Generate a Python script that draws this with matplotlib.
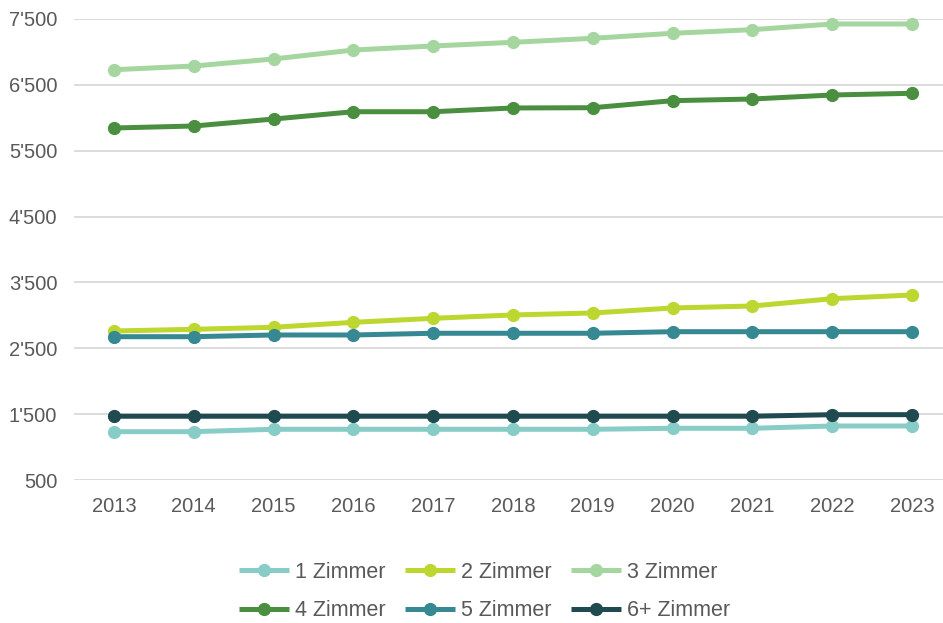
import numpy as np
import matplotlib.pyplot as plt
from matplotlib.ticker import FuncFormatter

plt.rcParams["font.family"] = ["Liberation Sans", "DejaVu Sans"]

years = [2013, 2014, 2015, 2016, 2017, 2018, 2019, 2020, 2021, 2022, 2023]

zimmer_1 = [1234, 1234, 1270, 1270, 1270, 1270, 1270, 1285, 1285, 1320, 1320]
zimmer_2 = [2763, 2788, 2819, 2894, 2955, 3006, 3036, 3112, 3142, 3253, 3309]
zimmer_3 = [6730, 6786, 6893, 7029, 7090, 7146, 7207, 7283, 7338, 7424, 7424]
zimmer_4 = [5845, 5875, 5981, 6092, 6092, 6149, 6153, 6260, 6285, 6346, 6372]
zimmer_5 = [2676, 2676, 2702, 2702, 2728, 2728, 2728, 2752, 2752, 2752, 2752]
zimmer_6 = [1468, 1468, 1468, 1468, 1468, 1468, 1468, 1468, 1468, 1492, 1492]

series = [
    ("1 Zimmer", zimmer_1, "#88CCC8"),
    ("2 Zimmer", zimmer_2, "#BDD730"),
    ("3 Zimmer", zimmer_3, "#A5D6A0"),
    ("4 Zimmer", zimmer_4, "#4A8F3F"),
    ("5 Zimmer", zimmer_5, "#368892"),
    ("6+ Zimmer", zimmer_6, "#1E4A50"),
]

y_ticks = [500, 1500, 2500, 3500, 4500, 5500, 6500, 7500]

fig = plt.figure(figsize=(9.43, 6.23), dpi=100)
ax = fig.add_axes([74 / 943, 1 - 480 / 623, 1 - 74 / 943, 461 / 623])

x = np.arange(len(years))
handles = {}
for label, values, color in series:
    (line,) = ax.plot(
        x,
        values,
        color=color,
        linewidth=3.6,
        marker="o",
        markersize=8.5,
        label=label,
        clip_on=False,
        solid_capstyle="butt",
    )
    handles[label] = line

ax.set_xlim(-0.501, 10.39)
ax.set_ylim(500, 7500)
ax.set_xticks(x)
ax.set_xticklabels([str(y) for y in years])
ax.set_yticks(y_ticks)
ax.yaxis.set_major_formatter(
    FuncFormatter(lambda v, p: f"{int(v):,}".replace(",", "'"))
)

ax.grid(axis="y", color="#D9D9D9", linewidth=1.3)
ax.set_axisbelow(True)
for side in ["top", "right", "left", "bottom"]:
    ax.spines[side].set_visible(False)
ax.tick_params(axis="both", length=0, labelsize=14.5, labelcolor="#595959")
ax.tick_params(axis="y", pad=12)
ax.tick_params(axis="x", pad=12)

# matplotlib fills legend columns first, so reorder for row-wise layout
order = ["1 Zimmer", "4 Zimmer", "2 Zimmer", "5 Zimmer", "3 Zimmer", "6+ Zimmer"]
fig.legend(
    [handles[k] for k in order],
    order,
    loc="upper center",
    bbox_to_anchor=(0.514, 1 - 562 / 623),
    ncol=3,
    frameon=False,
    fontsize=15.5,
    labelcolor="#595959",
    handlelength=2.3,
    handletextpad=0.3,
    columnspacing=0.9,
    labelspacing=0.8,
    borderpad=0,
    borderaxespad=0,
)

fig.savefig("out.png", dpi=100)
plt.close(fig)
